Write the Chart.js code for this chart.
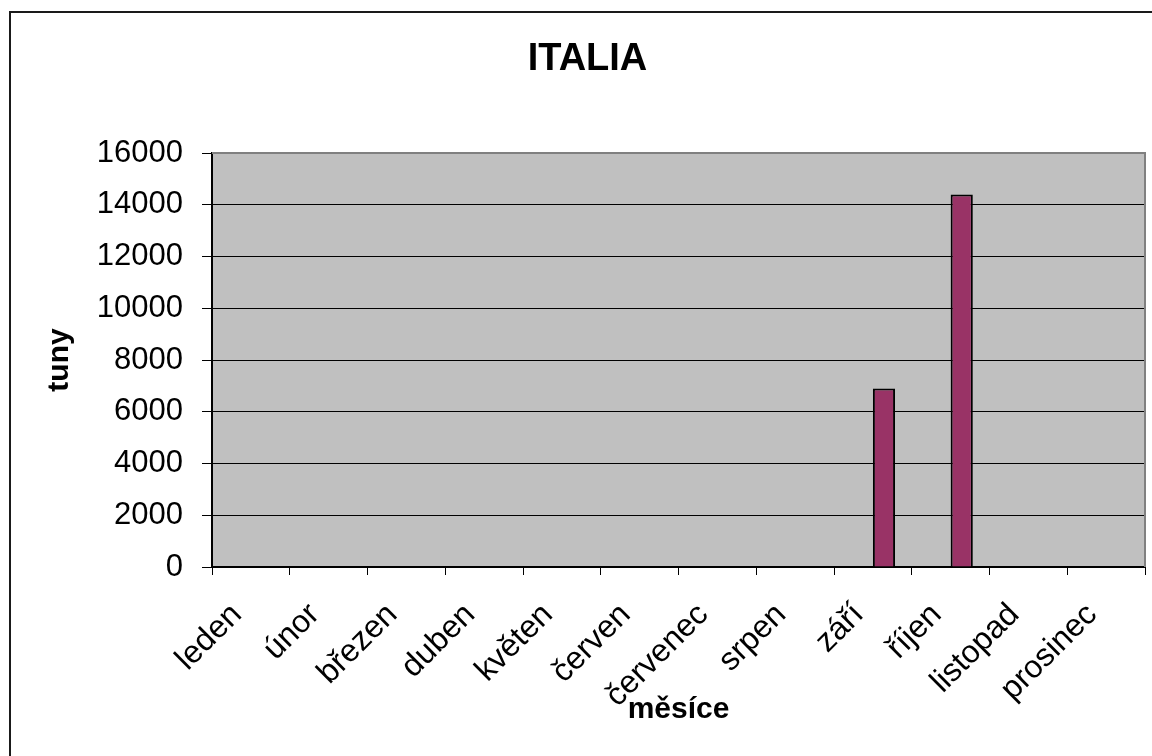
<!DOCTYPE html>
<html lang="cs">
<head>
<meta charset="utf-8">
<title>ITALIA</title>
<script src="https://cdn.jsdelivr.net/npm/chart.js@4.4.1/dist/chart.umd.min.js"></script>
<style>
  html, body { margin: 0; padding: 0; background: #fff; }
  #wrap { width: 1152px; height: 756px; }
</style>
</head>
<body>
<div id="wrap"><canvas id="chart" width="1152" height="756"></canvas></div>
<script>
// Kategorie na ose X
const mesice = ["leden", "únor", "březen", "duben", "květen", "červen",
  "červenec", "srpen", "září", "říjen", "listopad", "prosinec"];

// Hodnoty v tunách (první řada je prázdná, proto je druhá posunutá doprava)
const rada1 = [null, null, null, null, null, null, null, null, null, null, null, null];
const rada2 = [null, null, null, null, null, null, null, null, 6900, 14400, null, null];

// Rozsah a krok osy Y
const osaYMin = 0;
const osaYMax = 16000;
const osaYKrok = 2000;

const FONT = "Arial, 'Liberation Sans', sans-serif";

// Pozadí, rámeček grafu a šedá plocha pod daty
const pozadi = {
  id: "pozadi",
  beforeDraw(chart) {
    const { ctx, chartArea: a } = chart;
    ctx.save();
    ctx.fillStyle = "#ffffff";
    ctx.fillRect(0, 0, chart.width, chart.height);
    ctx.strokeStyle = "#1a1a1a";
    ctx.lineWidth = 2;
    ctx.strokeRect(10, 12, chart.width, chart.height);
    ctx.fillStyle = "#c0c0c0";
    ctx.fillRect(a.left, a.top, a.right - a.left, a.bottom - a.top);
    ctx.restore();
  },
  beforeDatasetsDraw(chart) {
    const { ctx, chartArea: a } = chart;
    ctx.save();
    ctx.strokeStyle = "#808080";
    ctx.lineWidth = 2;
    ctx.beginPath();
    ctx.moveTo(a.left, a.top);
    ctx.lineTo(a.right, a.top);
    ctx.lineTo(a.right, a.bottom);
    ctx.stroke();
    ctx.restore();
  }
};

const ctx = document.getElementById("chart").getContext("2d");
new Chart(ctx, {
  type: "bar",
  data: {
    labels: mesice,
    datasets: [
      {
        label: "řada 1",
        data: rada1,
        backgroundColor: "#9999ff",
        borderColor: "#000000",
        borderWidth: 2,
        categoryPercentage: 0.571,
        barPercentage: 1.0
      },
      {
        label: "řada 2",
        data: rada2,
        backgroundColor: "#993366",
        borderColor: "#000000",
        borderWidth: 2,
        categoryPercentage: 0.571,
        barPercentage: 1.0
      }
    ]
  },
  options: {
    responsive: false,
    animation: false,
    layout: { padding: { top: 0, right: 7, bottom: 0, left: 30 } },
    plugins: {
      legend: { display: false },
      title: {
        display: true,
        text: "ITALIA",
        color: "#000",
        font: { family: FONT, size: 38, weight: "bold" },
        padding: { top: 37.2, bottom: 70.2 }
      }
    },
    scales: {
      x: {
        offset: true,
        grid: {
          offset: true,
          drawOnChartArea: false,
          tickLength: 8,
          color: "#000"
        },
        border: { color: "#000", width: 2 },
        ticks: {
          autoSkip: false,
          minRotation: 45,
          maxRotation: 45,
          padding: 21,
          labelOffset: -14,
          color: "#000",
          font: { family: FONT, size: 32 }
        },
        title: {
          display: true,
          text: "měsíce",
          color: "#000",
          font: { family: FONT, size: 30, weight: "bold" },
          padding: { top: 0, bottom: 28 }
        },
        afterFit: (s) => {
          s.height = 189;
          s.paddingLeft = 0;
          s.paddingRight = 0;
        }
      },
      y: {
        min: osaYMin,
        max: osaYMax,
        grid: { color: "#000", tickColor: "#000", tickLength: 10 },
        border: { color: "#000", width: 2 },
        ticks: {
          stepSize: osaYKrok,
          padding: 19,
          color: "#000",
          font: { family: FONT, size: 31 },
          callback: (v) => String(v)
        },
        title: {
          display: true,
          text: "tuny",
          color: "#000",
          font: { family: FONT, size: 30, weight: "bold" },
          padding: { top: 12, bottom: 0 }
        },
        afterFit: (s) => { s.width = 182; }
      }
    }
  },
  plugins: [pozadi]
});
</script>
</body>
</html>
